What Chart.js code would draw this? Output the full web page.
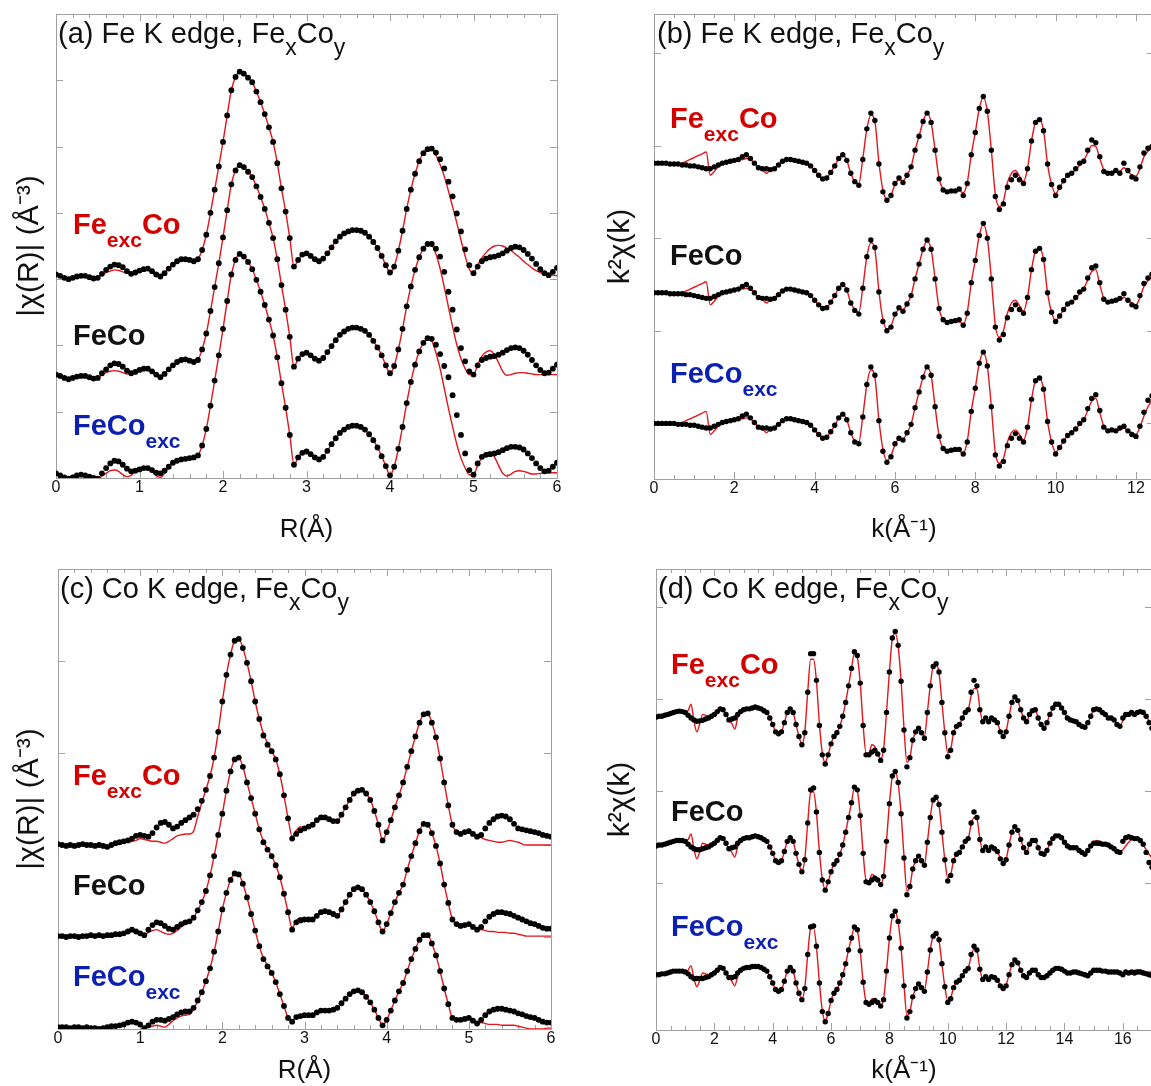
<!DOCTYPE html>
<html>
<head>
<meta charset="utf-8">
<title>Fe / Co K edge EXAFS fits</title>
<script src="https://cdn.jsdelivr.net/npm/chart.js@4.4.1/dist/chart.umd.min.js"></script>
<style>
  html, body { margin: 0; padding: 0; background: #fff; }
  body { position: relative; width: 1151px; height: 1086px; overflow: hidden; font-family: "Liberation Sans", Arial, sans-serif; }
  .panel { position: absolute; }
  .panel canvas { display: block; }
  .ttl { position: absolute; font-size: 29px; line-height: 29px; color: #111; white-space: nowrap; }
  .ttl .s { font-size: 23px; position: relative; top: 12px; }
  .cl { position: absolute; font-size: 29px; line-height: 29px; font-weight: bold; white-space: nowrap; }
  .cl .s { font-size: 21px; position: relative; top: 13px; }
  .red { color: #d40000; }
  .blk { color: #111; }
  .blu { color: #0b1fb0; }
</style>
</head>
<body>
<div class="panel" style="left:0;top:0"><canvas id="chartA" width="575" height="545"></canvas></div>
<div class="panel" style="left:575px;top:0"><canvas id="chartB" width="600" height="545"></canvas></div>
<div class="panel" style="left:0;top:545px"><canvas id="chartC" width="575" height="541"></canvas></div>
<div class="panel" style="left:575px;top:545px"><canvas id="chartD" width="600" height="541"></canvas></div>

<div class="ttl" style="left:58px;top:19px">(a) Fe K edge, Fe<span class="s">x</span>Co<span class="s">y</span></div>
<div class="ttl" style="left:657px;top:19px">(b) Fe K edge, Fe<span class="s">x</span>Co<span class="s">y</span></div>
<div class="ttl" style="left:60px;top:574px">(c) Co K edge, Fe<span class="s">x</span>Co<span class="s">y</span></div>
<div class="ttl" style="left:658px;top:574px">(d) Co K edge, Fe<span class="s">x</span>Co<span class="s">y</span></div>

<div class="cl red" style="left:73px;top:210px">Fe<span class="s">exc</span>Co</div>
<div class="cl blk" style="left:73px;top:321px">FeCo</div>
<div class="cl blu" style="left:73px;top:411px">FeCo<span class="s">exc</span></div>

<div class="cl red" style="left:670px;top:104px">Fe<span class="s">exc</span>Co</div>
<div class="cl blk" style="left:670px;top:241px">FeCo</div>
<div class="cl blu" style="left:670px;top:359px">FeCo<span class="s">exc</span></div>

<div class="cl red" style="left:73px;top:761px">Fe<span class="s">exc</span>Co</div>
<div class="cl blk" style="left:73px;top:871px">FeCo</div>
<div class="cl blu" style="left:73px;top:962px">FeCo<span class="s">exc</span></div>

<div class="cl red" style="left:671px;top:650px">Fe<span class="s">exc</span>Co</div>
<div class="cl blk" style="left:671px;top:797px">FeCo</div>
<div class="cl blu" style="left:671px;top:912px">FeCo<span class="s">exc</span></div>

<script>
// grids: R in steps of 0.05 A, k in steps of 0.1 A^-1
const R_STEP = 0.05;
const K_STEP = 0.1;

// ---------- (a) Fe K edge, |chi(R)| (values above each curve's baseline) ----------
const feROffsets = [3.07, 1.56, 0.07];
const feR_ExcCo = [
  0.00,-0.02,-0.05,-0.07,-0.05,-0.03,-0.02,-0.02,-0.04,-0.06,
  -0.05,0.01,0.07,0.12,0.15,0.14,0.11,0.05,0.01,0.03,
  0.06,0.08,0.09,0.05,0.00,-0.03,0.02,0.09,0.15,0.20,
  0.23,0.23,0.22,0.20,0.23,0.37,0.60,0.93,1.28,1.63,
  2.00,2.40,2.78,2.98,3.06,3.03,2.97,2.90,2.76,2.60,
  2.42,2.22,2.00,1.68,1.30,0.95,0.55,0.12,0.22,0.30,
  0.32,0.28,0.23,0.20,0.24,0.32,0.41,0.50,0.57,0.62,
  0.65,0.67,0.67,0.66,0.63,0.57,0.49,0.40,0.28,0.14,
  0.03,0.12,0.36,0.66,0.99,1.28,1.52,1.71,1.83,1.89,
  1.90,1.84,1.74,1.60,1.40,1.18,0.92,0.65,0.38,0.14,
  0.02,0.12,0.20,0.24,0.26,0.27,0.29,0.32,0.36,0.40,
  0.42,0.41,0.37,0.31,0.24,0.16,0.08,0.02,-0.01,0.04,
  0.10];
const feR_ExcCoFit = [
  0.00,-0.02,-0.05,-0.07,-0.05,-0.03,-0.02,-0.02,-0.04,-0.06,
  -0.05,0.00,0.03,0.05,0.07,0.06,0.04,0.02,0.01,0.03,
  0.06,0.08,0.09,0.05,0.00,-0.03,0.02,0.09,0.15,0.20,
  0.23,0.23,0.22,0.20,0.23,0.37,0.60,0.93,1.28,1.63,
  2.00,2.40,2.78,2.98,3.06,3.03,2.97,2.90,2.76,2.60,
  2.42,2.22,2.00,1.68,1.30,0.95,0.55,0.12,0.22,0.30,
  0.32,0.28,0.23,0.20,0.24,0.32,0.41,0.50,0.57,0.62,
  0.65,0.66,0.66,0.65,0.62,0.57,0.49,0.40,0.28,0.14,
  0.03,0.12,0.36,0.66,0.99,1.28,1.52,1.71,1.83,1.89,
  1.89,1.80,1.66,1.48,1.26,1.02,0.78,0.52,0.28,0.08,
  0.02,0.14,0.25,0.33,0.39,0.43,0.44,0.43,0.40,0.36,
  0.31,0.26,0.20,0.15,0.10,0.06,0.03,0.01,0.00,-0.01,
  -0.02];
const feR_FeCo = [
  0.00,-0.02,-0.05,-0.07,-0.05,-0.03,-0.02,-0.02,-0.04,-0.06,
  -0.05,0.02,0.08,0.14,0.17,0.16,0.12,0.06,0.02,0.04,
  0.07,0.09,0.09,0.05,0.00,-0.04,0.01,0.08,0.14,0.19,
  0.22,0.23,0.21,0.19,0.22,0.38,0.62,0.96,1.32,1.68,
  2.07,2.48,2.87,3.08,3.16,3.13,3.06,2.98,2.84,2.68,
  2.50,2.29,2.06,1.74,1.35,0.98,0.57,0.12,0.24,0.31,
  0.33,0.29,0.24,0.21,0.25,0.34,0.43,0.52,0.60,0.65,
  0.69,0.71,0.71,0.69,0.66,0.60,0.51,0.41,0.29,0.14,
  0.02,0.13,0.38,0.69,1.03,1.33,1.58,1.77,1.90,1.97,
  1.97,1.90,1.78,1.55,1.25,0.98,0.68,0.40,0.20,0.05,
  0.00,0.14,0.22,0.25,0.27,0.28,0.30,0.33,0.37,0.40,
  0.41,0.40,0.36,0.30,0.22,0.14,0.07,0.02,0.03,0.09,
  0.15];
const feR_FeCoFit = [
  0.00,-0.02,-0.05,-0.07,-0.05,-0.03,-0.02,-0.02,-0.04,-0.06,
  -0.05,0.00,0.03,0.05,0.06,0.05,0.03,0.01,0.02,0.04,
  0.07,0.09,0.09,0.05,0.00,-0.04,0.01,0.08,0.14,0.19,
  0.22,0.23,0.21,0.19,0.22,0.38,0.62,0.96,1.32,1.68,
  2.07,2.48,2.87,3.08,3.16,3.13,3.06,2.98,2.84,2.68,
  2.50,2.29,2.06,1.74,1.35,0.98,0.57,0.12,0.24,0.31,
  0.33,0.29,0.24,0.21,0.25,0.34,0.43,0.52,0.60,0.65,
  0.69,0.70,0.70,0.68,0.65,0.60,0.51,0.41,0.29,0.14,
  0.02,0.13,0.38,0.69,1.03,1.33,1.58,1.77,1.90,1.97,
  1.95,1.82,1.60,1.32,1.02,0.72,0.45,0.24,0.09,0.00,
  0.00,0.15,0.28,0.34,0.36,0.30,0.18,0.05,-0.01,0.00,
  0.02,0.03,0.03,0.02,0.01,0.00,0.00,0.00,0.00,0.00,
  0.00];
const feR_CoExc = [
  0.00,-0.03,-0.06,-0.08,-0.06,-0.03,-0.02,-0.03,-0.05,-0.07,
  -0.08,0.00,0.08,0.15,0.19,0.18,0.13,0.07,0.03,0.04,
  0.06,0.08,0.08,0.05,0.01,0.00,0.04,0.10,0.16,0.19,
  0.21,0.22,0.23,0.24,0.27,0.42,0.67,1.02,1.40,1.78,
  2.18,2.60,3.00,3.22,3.31,3.27,3.19,3.08,2.92,2.74,
  2.54,2.32,2.08,1.75,1.36,0.99,0.58,0.13,0.24,0.31,
  0.33,0.29,0.24,0.21,0.25,0.34,0.44,0.53,0.61,0.66,
  0.70,0.72,0.72,0.70,0.66,0.59,0.50,0.39,0.26,0.11,
  -0.03,0.10,0.37,0.70,1.06,1.38,1.64,1.84,1.97,2.04,
  2.03,1.94,1.80,1.62,1.45,1.18,0.88,0.58,0.30,0.05,
  -0.02,0.15,0.25,0.28,0.29,0.30,0.32,0.35,0.38,0.40,
  0.40,0.39,0.36,0.30,0.23,0.15,0.08,0.03,0.04,0.10,
  0.16];
const feR_CoExcFit = [
  0.00,-0.03,-0.06,-0.08,-0.06,-0.03,-0.02,-0.03,-0.05,-0.07,
  -0.08,-0.04,0.00,0.04,0.05,0.03,-0.02,-0.05,-0.03,0.03,
  0.08,0.09,0.07,0.03,-0.03,-0.06,0.00,0.10,0.16,0.19,
  0.21,0.22,0.23,0.24,0.27,0.42,0.67,1.02,1.40,1.78,
  2.18,2.60,3.00,3.22,3.31,3.27,3.19,3.08,2.92,2.74,
  2.54,2.32,2.08,1.75,1.36,0.99,0.58,0.13,0.24,0.31,
  0.33,0.29,0.24,0.21,0.25,0.34,0.44,0.53,0.61,0.66,
  0.70,0.71,0.71,0.69,0.65,0.59,0.50,0.39,0.26,0.11,
  -0.03,0.10,0.37,0.70,1.06,1.38,1.64,1.84,1.97,2.04,
  2.00,1.82,1.58,1.28,0.98,0.70,0.44,0.23,0.08,-0.02,
  -0.02,0.12,0.24,0.31,0.32,0.25,0.12,0.00,-0.04,-0.01,
  0.03,0.04,0.03,0.01,-0.01,-0.01,0.00,0.01,0.01,0.01,
  0.01];

// ---------- (b) Fe K edge, k^2 chi(k) ----------
const feKOffsets = [2.80, 1.40, 0.00];
const feK_ExcCo = [
  0.01,0.01,0.01,0.01,0.00,0.00,0.00,-0.01,-0.01,-0.02,
  -0.02,-0.03,-0.04,-0.05,-0.05,-0.03,-0.01,0.01,0.02,0.03,
  0.04,0.05,0.08,0.10,0.06,0.01,-0.04,-0.05,-0.05,-0.06,
  -0.05,-0.01,0.03,0.05,0.05,0.04,0.03,0.02,0.01,-0.02,
  -0.07,-0.12,-0.16,-0.15,-0.09,-0.02,0.06,0.10,0.04,-0.10,
  -0.19,-0.23,0.05,0.38,0.55,0.47,0.00,-0.30,-0.39,-0.34,
  -0.21,-0.15,-0.20,-0.12,-0.03,0.15,0.30,0.46,0.55,0.45,
  0.15,-0.16,-0.28,-0.30,-0.29,-0.29,-0.27,-0.34,-0.21,0.10,
  0.34,0.60,0.73,0.57,0.15,-0.35,-0.49,-0.43,-0.25,-0.17,
  -0.12,-0.17,-0.21,-0.05,0.25,0.45,0.48,0.36,0.00,-0.22,
  -0.34,-0.25,-0.18,-0.12,-0.10,-0.05,0.01,0.03,0.15,0.26,
  0.23,0.08,-0.08,-0.10,-0.10,-0.07,-0.10,0.01,-0.07,-0.14,
  -0.16,-0.03,0.12,0.17,0.19];
const feK_ExcCoFit = [
  0.01,0.01,0.01,0.01,0.00,0.00,0.00,0.01,0.03,0.05,
  0.07,0.09,0.11,0.13,-0.12,-0.08,-0.03,0.00,0.02,0.03,
  0.04,0.05,0.05,0.06,0.05,0.01,-0.04,-0.06,-0.10,-0.06,
  -0.04,-0.01,0.03,0.05,0.05,0.04,0.03,0.02,0.01,-0.02,
  -0.07,-0.12,-0.16,-0.15,-0.09,-0.02,0.06,0.10,0.04,-0.10,
  -0.19,-0.21,0.06,0.38,0.53,0.46,0.02,-0.28,-0.38,-0.34,
  -0.22,-0.17,-0.18,-0.12,-0.03,0.15,0.30,0.46,0.55,0.45,
  0.15,-0.16,-0.27,-0.29,-0.29,-0.29,-0.29,-0.31,-0.20,0.10,
  0.34,0.60,0.72,0.57,0.15,-0.33,-0.46,-0.40,-0.20,-0.10,
  -0.07,-0.13,-0.19,-0.05,0.25,0.45,0.48,0.36,0.00,-0.22,
  -0.32,-0.25,-0.18,-0.12,-0.10,-0.06,-0.01,0.04,0.12,0.20,
  0.19,0.06,-0.06,-0.09,-0.08,-0.09,-0.08,-0.04,-0.08,-0.12,
  -0.13,-0.05,0.08,0.14,0.17];
const feK_FeCo = [
  0.01,0.01,0.01,0.01,0.00,0.00,0.00,0.00,-0.01,-0.01,
  -0.02,-0.03,-0.04,-0.05,-0.05,-0.03,-0.01,0.01,0.02,0.03,
  0.04,0.05,0.08,0.10,0.06,0.01,-0.04,-0.05,-0.05,-0.06,
  -0.05,-0.01,0.03,0.05,0.05,0.04,0.03,0.02,0.01,-0.02,
  -0.07,-0.12,-0.16,-0.15,-0.09,-0.02,0.06,0.10,0.04,-0.10,
  -0.18,-0.22,0.06,0.40,0.58,0.50,0.02,-0.30,-0.40,-0.36,
  -0.22,-0.15,-0.19,-0.11,-0.02,0.16,0.32,0.48,0.58,0.48,
  0.16,-0.16,-0.28,-0.31,-0.30,-0.29,-0.28,-0.34,-0.21,0.12,
  0.36,0.63,0.76,0.60,0.16,-0.36,-0.50,-0.44,-0.26,-0.17,
  -0.12,-0.17,-0.21,-0.04,0.26,0.46,0.49,0.37,0.01,-0.20,
  -0.30,-0.24,-0.17,-0.11,-0.09,-0.04,0.02,0.05,0.17,0.28,
  0.30,0.12,-0.06,-0.09,-0.08,-0.07,-0.05,0.00,-0.07,-0.12,
  -0.14,-0.02,0.11,0.17,0.21];
const feK_FeCoFit = [
  0.01,0.01,0.01,0.01,0.00,0.00,0.00,0.01,0.03,0.05,
  0.07,0.09,0.11,0.13,-0.12,-0.08,-0.03,0.00,0.02,0.03,
  0.04,0.05,0.05,0.06,0.05,0.01,-0.04,-0.06,-0.10,-0.06,
  -0.04,-0.01,0.03,0.05,0.05,0.04,0.03,0.02,0.01,-0.02,
  -0.07,-0.12,-0.16,-0.15,-0.09,-0.02,0.06,0.10,0.04,-0.10,
  -0.17,-0.20,0.07,0.40,0.55,0.48,0.03,-0.28,-0.38,-0.35,
  -0.23,-0.17,-0.17,-0.11,-0.02,0.16,0.32,0.48,0.57,0.48,
  0.16,-0.16,-0.28,-0.30,-0.30,-0.31,-0.30,-0.33,-0.20,0.12,
  0.36,0.63,0.75,0.60,0.16,-0.34,-0.47,-0.40,-0.21,-0.10,
  -0.07,-0.13,-0.19,-0.04,0.26,0.46,0.49,0.37,0.01,-0.20,
  -0.29,-0.24,-0.17,-0.11,-0.09,-0.05,0.00,0.05,0.15,0.24,
  0.26,0.10,-0.05,-0.08,-0.08,-0.08,-0.07,-0.04,-0.07,-0.10,
  -0.12,-0.04,0.08,0.14,0.18];
const feK_CoExc = [
  0.00,0.00,0.00,0.00,0.00,0.00,-0.01,-0.01,-0.01,-0.02,
  -0.02,-0.03,-0.04,-0.05,-0.05,-0.03,-0.01,0.01,0.02,0.03,
  0.04,0.05,0.08,0.10,0.06,0.01,-0.04,-0.05,-0.05,-0.06,
  -0.05,-0.01,0.03,0.05,0.05,0.04,0.03,0.02,0.01,-0.02,
  -0.07,-0.12,-0.16,-0.15,-0.09,-0.02,0.06,0.10,0.04,-0.10,
  -0.20,-0.22,0.07,0.42,0.61,0.52,0.03,-0.30,-0.42,-0.36,
  -0.22,-0.16,-0.18,-0.10,-0.01,0.17,0.34,0.50,0.61,0.52,
  0.18,-0.14,-0.27,-0.30,-0.29,-0.28,-0.28,-0.33,-0.20,0.13,
  0.38,0.65,0.77,0.62,0.18,-0.34,-0.46,-0.41,-0.24,-0.16,
  -0.11,-0.16,-0.20,-0.04,0.26,0.46,0.49,0.37,0.02,-0.20,
  -0.33,-0.26,-0.19,-0.13,-0.10,-0.06,0.00,0.04,0.16,0.27,
  0.31,0.14,-0.04,-0.08,-0.07,-0.08,-0.05,-0.03,-0.08,-0.12,
  -0.14,-0.03,0.12,0.25,0.30];
const feK_CoExcFit = [
  0.00,0.00,0.00,0.00,0.00,0.00,0.00,0.01,0.03,0.05,
  0.07,0.09,0.11,0.13,-0.12,-0.08,-0.03,0.00,0.02,0.03,
  0.04,0.05,0.05,0.06,0.05,0.01,-0.04,-0.06,-0.10,-0.06,
  -0.04,-0.01,0.03,0.05,0.05,0.04,0.03,0.02,0.01,-0.02,
  -0.07,-0.12,-0.16,-0.15,-0.09,-0.02,0.06,0.10,0.04,-0.10,
  -0.19,-0.20,0.08,0.42,0.58,0.50,0.04,-0.28,-0.40,-0.35,
  -0.23,-0.17,-0.17,-0.10,-0.01,0.17,0.34,0.50,0.60,0.52,
  0.18,-0.14,-0.27,-0.29,-0.29,-0.30,-0.30,-0.32,-0.19,0.13,
  0.38,0.65,0.76,0.62,0.18,-0.32,-0.43,-0.38,-0.20,-0.10,
  -0.07,-0.12,-0.18,-0.04,0.26,0.46,0.49,0.37,0.02,-0.20,
  -0.31,-0.26,-0.19,-0.13,-0.10,-0.06,-0.01,0.04,0.14,0.24,
  0.27,0.12,-0.03,-0.07,-0.07,-0.08,-0.07,-0.05,-0.08,-0.10,
  -0.12,-0.04,0.08,0.18,0.25];

// ---------- (c) Co K edge, |chi(R)| ----------
const coROffsets = [2.01, 1.01, 0.02];
const coR_ExcCo = [
  0.00,-0.01,-0.02,-0.01,-0.02,-0.01,0.00,-0.01,-0.01,-0.02,
  -0.01,-0.02,-0.03,-0.01,0.01,0.02,0.03,0.04,0.06,0.09,
  0.10,0.09,0.08,0.12,0.18,0.23,0.24,0.21,0.17,0.19,
  0.23,0.26,0.29,0.32,0.38,0.47,0.59,0.74,0.94,1.22,
  1.55,1.84,2.06,2.21,2.23,2.13,1.97,1.77,1.55,1.36,
  1.18,1.08,1.01,0.92,0.76,0.53,0.28,0.06,0.11,0.15,
  0.17,0.19,0.21,0.26,0.29,0.29,0.27,0.25,0.25,0.32,
  0.40,0.48,0.55,0.58,0.59,0.55,0.48,0.36,0.21,0.04,
  0.13,0.26,0.40,0.53,0.67,0.84,1.01,1.17,1.32,1.41,
  1.42,1.32,1.16,0.93,0.67,0.42,0.21,0.13,0.11,0.13,
  0.14,0.11,0.08,0.10,0.17,0.23,0.27,0.30,0.31,0.30,
  0.27,0.22,0.17,0.16,0.15,0.14,0.13,0.12,0.10,0.09,
  0.08];
const coR_ExcCoFit = [
  0.00,-0.01,-0.02,-0.01,-0.02,-0.01,0.00,-0.01,-0.01,-0.02,
  -0.01,-0.02,-0.03,-0.01,0.01,0.02,0.02,0.02,0.03,0.04,
  0.06,0.05,0.04,0.03,0.03,0.02,0.01,0.03,0.06,0.09,
  0.10,0.11,0.11,0.14,0.30,0.45,0.59,0.74,0.94,1.22,
  1.55,1.84,2.06,2.21,2.23,2.13,1.97,1.77,1.55,1.36,
  1.20,1.10,1.01,0.92,0.76,0.53,0.28,0.08,0.15,0.19,
  0.18,0.19,0.21,0.26,0.29,0.29,0.27,0.25,0.25,0.32,
  0.40,0.48,0.55,0.58,0.58,0.55,0.48,0.36,0.21,0.04,
  0.13,0.26,0.40,0.53,0.67,0.84,1.01,1.17,1.32,1.41,
  1.42,1.32,1.16,0.93,0.67,0.42,0.21,0.13,0.11,0.13,
  0.14,0.11,0.08,0.07,0.05,0.04,0.03,0.02,0.02,0.03,
  0.04,0.03,0.02,0.00,-0.01,-0.01,-0.01,-0.01,-0.01,-0.01,
  -0.01];
const coR_FeCo = [
  0.00,0.00,-0.01,0.00,0.00,-0.01,0.00,0.00,0.01,0.00,
  0.01,0.00,0.01,0.01,0.02,0.02,0.03,0.05,0.07,0.05,
  0.03,0.01,0.07,0.12,0.15,0.14,0.11,0.08,0.07,0.10,
  0.13,0.15,0.16,0.20,0.28,0.37,0.49,0.66,0.87,1.10,
  1.33,1.58,1.79,1.92,1.94,1.84,1.67,1.50,1.33,1.16,
  1.02,0.94,0.87,0.77,0.64,0.46,0.26,0.07,0.15,0.17,
  0.18,0.18,0.18,0.22,0.26,0.27,0.26,0.24,0.22,0.29,
  0.37,0.45,0.51,0.53,0.51,0.45,0.37,0.27,0.15,0.05,
  0.13,0.25,0.37,0.47,0.56,0.72,0.87,1.01,1.14,1.22,
  1.21,1.12,0.98,0.79,0.56,0.36,0.18,0.13,0.11,0.12,
  0.13,0.10,0.07,0.10,0.16,0.21,0.24,0.26,0.26,0.25,
  0.24,0.22,0.20,0.18,0.16,0.14,0.13,0.11,0.09,0.08,
  0.08];
const coR_FeCoFit = [
  0.00,0.00,-0.01,0.00,0.00,-0.01,0.00,0.00,0.01,0.00,
  0.01,0.00,0.01,0.01,0.02,0.02,0.03,0.05,0.07,0.05,
  0.03,0.01,0.04,0.06,0.07,0.05,0.03,0.02,0.03,0.06,
  0.10,0.13,0.15,0.20,0.28,0.37,0.49,0.66,0.87,1.10,
  1.33,1.58,1.79,1.92,1.94,1.84,1.67,1.50,1.33,1.16,
  1.03,0.95,0.87,0.77,0.64,0.46,0.26,0.09,0.17,0.20,
  0.19,0.18,0.18,0.22,0.26,0.27,0.26,0.24,0.22,0.29,
  0.37,0.45,0.51,0.53,0.51,0.45,0.37,0.27,0.15,0.05,
  0.13,0.25,0.37,0.47,0.56,0.72,0.87,1.01,1.14,1.22,
  1.21,1.12,0.98,0.79,0.56,0.36,0.18,0.13,0.11,0.12,
  0.13,0.10,0.07,0.07,0.06,0.05,0.05,0.04,0.04,0.04,
  0.03,0.03,0.02,0.01,0.00,0.00,0.00,0.00,0.00,0.00,
  0.00];
const coR_CoExc = [
  0.00,0.00,0.00,-0.01,0.00,0.00,-0.01,0.00,-0.01,-0.01,
  -0.02,-0.01,0.00,0.01,0.01,0.02,0.03,0.05,0.06,0.05,
  0.03,-0.01,0.02,0.06,0.08,0.08,0.07,0.09,0.11,0.14,
  0.16,0.17,0.17,0.21,0.29,0.38,0.50,0.64,0.82,1.04,
  1.28,1.46,1.60,1.67,1.66,1.56,1.41,1.23,1.05,0.88,
  0.74,0.66,0.59,0.49,0.36,0.23,0.10,0.06,0.11,0.12,
  0.13,0.13,0.13,0.16,0.18,0.18,0.18,0.19,0.21,0.26,
  0.31,0.36,0.39,0.40,0.38,0.33,0.27,0.19,0.10,0.02,
  0.08,0.18,0.29,0.39,0.48,0.61,0.74,0.85,0.95,1.00,
  1.00,0.91,0.78,0.61,0.42,0.25,0.10,0.08,0.08,0.09,
  0.10,0.07,0.04,0.08,0.13,0.17,0.19,0.20,0.20,0.19,
  0.18,0.17,0.15,0.14,0.12,0.11,0.10,0.08,0.06,0.05,
  0.05];
const coR_CoExcFit = [
  0.00,0.00,0.00,-0.01,0.00,0.00,-0.01,0.00,-0.01,-0.01,
  -0.02,-0.01,0.00,0.01,0.01,0.02,0.03,0.05,0.06,0.05,
  0.03,-0.01,0.00,0.01,0.02,0.01,0.00,0.03,0.07,0.10,
  0.12,0.13,0.14,0.19,0.29,0.38,0.50,0.64,0.82,1.04,
  1.28,1.46,1.60,1.67,1.66,1.56,1.41,1.23,1.05,0.88,
  0.75,0.67,0.59,0.49,0.36,0.23,0.10,0.07,0.12,0.13,
  0.13,0.13,0.13,0.16,0.18,0.18,0.18,0.19,0.21,0.26,
  0.31,0.36,0.39,0.40,0.38,0.33,0.27,0.19,0.10,0.02,
  0.08,0.18,0.29,0.39,0.48,0.61,0.74,0.85,0.95,1.00,
  1.00,0.91,0.78,0.61,0.42,0.25,0.10,0.08,0.08,0.09,
  0.10,0.07,0.04,0.05,0.04,0.03,0.03,0.03,0.02,0.02,
  0.02,0.02,0.01,0.00,-0.01,-0.02,-0.02,-0.02,-0.02,-0.01,
  -0.01];

// ---------- (d) Co K edge, k^2 chi(k) ----------
const coKOffsets = [2.81, 1.41, 0.00];
const coK_ExcCo = [
  -0.01,0.00,0.00,0.01,0.02,0.03,0.04,0.05,0.055,0.05,
  0.04,0.01,-0.02,-0.04,-0.055,-0.05,-0.045,-0.03,-0.02,0.00,
  0.02,0.05,0.08,0.07,0.02,-0.04,-0.03,-0.02,0.02,0.05,
  0.07,0.08,0.08,0.09,0.10,0.09,0.08,0.06,0.04,-0.02,
  -0.09,-0.17,-0.19,-0.17,-0.07,0.04,0.08,0.04,-0.09,-0.22,
  -0.31,-0.18,0.26,0.68,0.68,0.39,-0.10,-0.42,-0.52,-0.42,
  -0.30,-0.22,-0.18,-0.11,0.00,0.15,0.33,0.52,0.70,0.66,
  0.36,-0.10,-0.42,-0.42,-0.39,-0.37,-0.41,-0.48,-0.37,0.04,
  0.48,0.85,0.92,0.77,0.38,-0.15,-0.55,-0.45,-0.26,-0.17,
  -0.13,-0.18,-0.24,0.04,0.33,0.54,0.57,0.48,0.15,-0.18,
  -0.44,-0.37,-0.18,-0.11,-0.09,-0.02,0.04,0.07,0.26,0.39,
  0.33,0.07,-0.06,-0.02,-0.06,-0.02,-0.04,-0.07,-0.17,-0.22,
  -0.17,0.00,0.15,0.21,0.17,0.07,-0.02,-0.06,0.02,0.06,
  0.07,-0.02,-0.09,-0.13,-0.07,0.02,0.09,0.13,0.13,0.09,
  0.04,-0.02,-0.04,-0.05,-0.06,-0.09,-0.11,-0.12,-0.07,0.00,
  0.07,0.08,0.07,0.04,0.02,-0.02,-0.02,-0.04,-0.09,-0.11,
  -0.02,0.02,0.02,0.04,0.02,0.04,0.05,0.04,0.00,-0.07,
  -0.13];
const coK_ExcCoFit = [
  -0.01,0.00,0.00,0.01,0.02,0.03,0.04,0.05,0.055,0.05,
  0.04,0.06,0.13,-0.05,-0.17,-0.08,0.02,0.01,0.00,0.01,
  0.02,0.05,0.08,0.07,0.02,-0.04,-0.08,-0.14,-0.02,0.05,
  0.07,0.08,0.08,0.09,0.10,0.09,0.08,0.06,0.04,-0.02,
  -0.09,-0.17,-0.19,-0.17,-0.07,0.04,0.08,0.04,-0.09,-0.22,
  -0.30,-0.17,0.26,0.62,0.62,0.38,-0.08,-0.40,-0.50,-0.42,
  -0.30,-0.22,-0.18,-0.11,0.00,0.15,0.33,0.52,0.68,0.64,
  0.36,-0.10,-0.40,-0.40,-0.31,-0.33,-0.41,-0.46,-0.36,0.04,
  0.48,0.84,0.90,0.76,0.38,-0.13,-0.50,-0.45,-0.26,-0.17,
  -0.13,-0.18,-0.22,0.04,0.33,0.54,0.56,0.47,0.15,-0.18,
  -0.40,-0.36,-0.18,-0.11,-0.09,-0.02,0.04,0.07,0.22,0.30,
  0.30,0.09,-0.06,-0.02,-0.06,-0.02,-0.04,-0.07,-0.16,-0.21,
  -0.16,0.00,0.15,0.20,0.17,0.07,-0.02,-0.06,0.02,0.06,
  0.07,-0.02,-0.09,-0.13,-0.07,0.02,0.09,0.13,0.13,0.09,
  0.04,-0.02,-0.04,-0.05,-0.06,-0.09,-0.11,-0.12,-0.07,0.00,
  0.07,0.08,0.07,0.04,0.02,-0.02,-0.02,-0.04,-0.09,-0.11,
  -0.05,-0.01,0.02,0.04,0.03,0.04,0.04,0.03,0.00,-0.05,
  -0.11];
const coK_FeCo = [
  -0.01,0.00,0.00,0.01,0.02,0.03,0.04,0.05,0.05,0.05,
  0.04,0.01,-0.02,-0.04,-0.05,-0.05,-0.04,-0.03,-0.02,0.00,
  0.02,0.05,0.08,0.07,0.02,-0.04,-0.03,-0.02,0.02,0.05,
  0.07,0.08,0.08,0.09,0.10,0.09,0.08,0.06,0.04,-0.02,
  -0.09,-0.17,-0.19,-0.17,-0.07,0.04,0.08,0.04,-0.09,-0.21,
  -0.29,-0.16,0.24,0.60,0.62,0.36,-0.08,-0.38,-0.49,-0.40,
  -0.29,-0.21,-0.17,-0.10,0.00,0.14,0.30,0.46,0.63,0.60,
  0.32,-0.09,-0.40,-0.41,-0.38,-0.36,-0.38,-0.43,-0.34,0.04,
  0.45,0.75,0.80,0.68,0.34,-0.14,-0.54,-0.45,-0.26,-0.17,
  -0.12,-0.17,-0.22,0.03,0.30,0.49,0.52,0.44,0.14,-0.16,
  -0.39,-0.33,-0.17,-0.10,-0.08,-0.02,0.04,0.07,0.24,0.36,
  0.30,0.06,-0.06,-0.02,-0.06,-0.02,-0.04,-0.07,-0.15,-0.20,
  -0.16,0.00,0.14,0.20,0.16,0.06,-0.03,-0.08,0.01,0.05,
  0.05,-0.03,-0.09,-0.10,-0.06,0.02,0.07,0.10,0.10,0.08,
  0.03,-0.01,-0.03,-0.03,-0.03,-0.06,-0.08,-0.10,-0.06,-0.01,
  0.02,0.02,0.02,0.01,0.01,0.00,-0.02,-0.04,-0.07,-0.08,
  0.04,0.08,0.09,0.08,0.07,0.07,0.05,0.01,-0.08,-0.19,
  -0.24];
const coK_FeCoFit = [
  -0.01,0.00,0.00,0.01,0.02,0.03,0.04,0.05,0.05,0.05,
  0.04,0.06,0.12,-0.04,-0.15,-0.07,0.02,0.01,0.00,0.01,
  0.02,0.05,0.08,0.07,0.02,-0.04,-0.08,-0.13,-0.02,0.05,
  0.07,0.08,0.08,0.09,0.10,0.09,0.08,0.06,0.04,-0.02,
  -0.09,-0.17,-0.19,-0.17,-0.07,0.04,0.08,0.04,-0.09,-0.21,
  -0.28,-0.15,0.24,0.57,0.58,0.35,-0.07,-0.37,-0.48,-0.40,
  -0.29,-0.21,-0.17,-0.10,0.00,0.14,0.30,0.46,0.62,0.59,
  0.32,-0.09,-0.38,-0.39,-0.32,-0.34,-0.38,-0.42,-0.33,0.04,
  0.45,0.74,0.79,0.67,0.34,-0.12,-0.50,-0.45,-0.26,-0.17,
  -0.12,-0.17,-0.21,0.03,0.30,0.49,0.51,0.43,0.14,-0.16,
  -0.36,-0.32,-0.17,-0.10,-0.08,-0.02,0.04,0.07,0.22,0.30,
  0.28,0.07,-0.06,-0.02,-0.06,-0.02,-0.04,-0.07,-0.14,-0.19,
  -0.15,0.00,0.14,0.19,0.16,0.06,-0.03,-0.08,0.01,0.05,
  0.05,-0.03,-0.09,-0.10,-0.06,0.02,0.07,0.10,0.10,0.08,
  0.03,-0.01,-0.03,-0.03,-0.03,-0.06,-0.08,-0.10,-0.06,-0.01,
  0.03,0.05,0.04,0.02,0.01,0.00,-0.02,-0.04,-0.06,-0.07,
  -0.05,-0.01,0.03,0.06,0.07,0.06,0.04,0.00,-0.05,-0.10,
  -0.14];
const coK_CoExc = [
  0.00,0.00,0.01,0.01,0.02,0.03,0.04,0.04,0.04,0.04,
  0.03,0.01,-0.02,-0.04,-0.04,-0.04,-0.04,-0.03,-0.02,0.00,
  0.02,0.05,0.08,0.07,0.02,-0.03,-0.03,-0.02,0.02,0.05,
  0.07,0.08,0.08,0.09,0.09,0.09,0.08,0.06,0.04,-0.02,
  -0.09,-0.16,-0.18,-0.16,-0.07,0.04,0.08,0.04,-0.09,-0.20,
  -0.27,-0.15,0.22,0.52,0.53,0.31,-0.09,-0.40,-0.51,-0.42,
  -0.28,-0.20,-0.16,-0.09,0.00,0.12,0.27,0.40,0.52,0.49,
  0.26,-0.08,-0.30,-0.32,-0.30,-0.28,-0.30,-0.34,-0.27,0.04,
  0.40,0.64,0.69,0.58,0.29,-0.12,-0.47,-0.40,-0.24,-0.15,
  -0.10,-0.14,-0.18,0.03,0.27,0.42,0.45,0.38,0.12,-0.13,
  -0.30,-0.26,-0.14,-0.08,-0.06,-0.01,0.04,0.07,0.22,0.31,
  0.27,0.06,-0.05,-0.02,-0.05,-0.02,-0.03,-0.06,-0.12,-0.15,
  -0.12,0.00,0.11,0.16,0.13,0.05,-0.01,-0.03,0.02,0.05,
  0.05,0.00,-0.03,-0.03,-0.01,0.02,0.05,0.07,0.07,0.06,
  0.04,0.02,0.02,0.03,0.03,0.02,0.01,0.00,-0.01,0.02,
  0.05,0.05,0.05,0.04,0.04,0.03,0.03,0.03,0.03,0.02,
  0.00,0.03,0.02,0.03,0.02,0.03,0.03,0.02,0.01,0.00,
  -0.01];
const coK_CoExcFit = [
  0.00,0.00,0.01,0.01,0.02,0.03,0.04,0.04,0.04,0.04,
  0.03,0.05,0.10,-0.04,-0.13,-0.06,0.02,0.01,0.00,0.01,
  0.02,0.05,0.08,0.07,0.02,-0.03,-0.07,-0.12,-0.02,0.05,
  0.07,0.08,0.08,0.09,0.09,0.09,0.08,0.06,0.04,-0.02,
  -0.09,-0.16,-0.18,-0.16,-0.07,0.04,0.08,0.04,-0.09,-0.20,
  -0.26,-0.14,0.22,0.50,0.51,0.30,-0.08,-0.39,-0.50,-0.42,
  -0.28,-0.20,-0.16,-0.09,0.00,0.12,0.27,0.40,0.51,0.48,
  0.26,-0.08,-0.29,-0.31,-0.26,-0.27,-0.30,-0.33,-0.26,0.04,
  0.40,0.63,0.68,0.57,0.29,-0.11,-0.44,-0.40,-0.24,-0.15,
  -0.10,-0.14,-0.17,0.03,0.27,0.42,0.44,0.37,0.12,-0.13,
  -0.28,-0.25,-0.14,-0.08,-0.06,-0.01,0.04,0.07,0.20,0.28,
  0.26,0.07,-0.05,-0.02,-0.05,-0.02,-0.03,-0.06,-0.11,-0.14,
  -0.11,0.00,0.11,0.15,0.13,0.05,-0.01,-0.03,0.02,0.05,
  0.05,0.00,-0.03,-0.03,-0.01,0.02,0.05,0.07,0.07,0.06,
  0.04,0.02,0.02,0.03,0.03,0.02,0.01,0.00,-0.01,0.02,
  0.05,0.05,0.05,0.04,0.04,0.03,0.03,0.03,0.03,0.02,
  0.01,0.02,0.03,0.04,0.05,0.05,0.05,0.04,0.03,0.03,
  0.03];

// ---------- drawing ----------
const FONT = '"Liberation Sans", Arial, sans-serif';
const FRAME_COLOR = '#a0a0a0';
const FIT_COLOR = '#e3161c';

// box round the plot area with inward ticks on all four sides
const frameTicks = {
  id: 'frameTicks',
  beforeDatasetsDraw(chart, args, opts) {
    const { ctx, chartArea: a, scales: { x, y } } = chart;
    ctx.save();
    ctx.strokeStyle = FRAME_COLOR;
    ctx.lineWidth = 1;
    ctx.strokeRect(Math.round(a.left) + 0.5, Math.round(a.top) + 0.5,
      Math.round(a.right - a.left), Math.round(a.bottom - a.top));
    ctx.beginPath();
    const n = Math.floor((x.max - x.min) / opts.xMinor + 1e-6);
    for (let i = 0; i <= n; i++) {
      const v = x.min + i * opts.xMinor;
      const px = Math.round(x.getPixelForValue(v)) + 0.5;
      const r = v / opts.xMajor;
      const len = Math.abs(r - Math.round(r)) < 1e-6 ? 7 : 4;
      ctx.moveTo(px, a.bottom); ctx.lineTo(px, a.bottom - len);
      ctx.moveTo(px, a.top); ctx.lineTo(px, a.top + len);
    }
    y.ticks.forEach(t => {
      const py = Math.round(y.getPixelForValue(t.value)) + 0.5;
      ctx.moveTo(a.left, py); ctx.lineTo(a.left + 7, py);
      ctx.moveTo(a.right, py); ctx.lineTo(a.right - 7, py);
    });
    ctx.stroke();
    ctx.restore();
  }
};

function toXY(vals, step, off) {
  return vals.map((v, i) => ({ x: +(i * step).toFixed(2), y: v + off }));
}

function buildPanel(id, p) {
  const datasets = [];
  p.series.forEach((s, i) => {
    datasets.push({
      data: toXY(s[0], p.step, p.offsets[i]),
      showLine: false,
      pointRadius: p.dot,
      pointHoverRadius: 0,
      pointBackgroundColor: '#000',
      pointBorderWidth: 0,
      order: 0
    });
    datasets.push({
      data: toXY(s[1], p.step, p.offsets[i]),
      borderColor: FIT_COLOR,
      borderWidth: 1.4,
      pointRadius: 0,
      cubicInterpolationMode: 'monotone',
      fill: false,
      order: 1
    });
  });

  new Chart(document.getElementById(id), {
    type: 'line',
    data: { datasets },
    options: {
      responsive: false,
      animation: false,
      events: [],
      layout: { padding: p.pad },
      plugins: {
        legend: { display: false },
        tooltip: { enabled: false },
        frameTicks: { xMinor: p.xMinor, xMajor: p.xMajor }
      },
      scales: {
        x: {
          type: 'linear',
          min: 0,
          max: p.xMax,
          grid: { display: false, drawTicks: false },
          border: { display: false },
          ticks: {
            stepSize: p.xMajor, includeBounds: false, padding: 0, maxRotation: 0,
            color: '#111', font: { family: FONT, size: 16 }
          },
          title: {
            display: true, text: p.xTitle, color: '#111', padding: 0,
            font: { family: FONT, size: 26 }
          },
          afterFit: s => { s.height = p.xH; }
        },
        y: {
          min: p.yMin,
          max: p.yMax,
          grid: { display: false, drawTicks: false },
          border: { display: false },
          ticks: { display: false, stepSize: 1, includeBounds: false },
          title: {
            display: true, text: p.yTitle, color: '#111',
            padding: { top: p.yTitlePad, bottom: 0 },
            font: { family: FONT, size: 30 }
          },
          afterFit: s => { s.width = p.yW; }
        }
      }
    },
    plugins: [frameTicks]
  });
}

buildPanel('chartA', {
  series: [[feR_ExcCo, feR_ExcCoFit], [feR_FeCo, feR_FeCoFit], [feR_CoExc, feR_CoExcFit]],
  offsets: feROffsets, step: R_STEP, dot: 2.9,
  xMax: 6, xMajor: 1, xMinor: 0.2, yMin: 0, yMax: 7,
  xTitle: 'R(Å)', yTitle: '|χ(R)| (Å⁻³)',
  pad: { top: 14, right: 18, bottom: 0, left: 0 }, yW: 56, xH: 67, yTitlePad: 12
});
buildPanel('chartB', {
  series: [[feK_ExcCo, feK_ExcCoFit], [feK_FeCo, feK_FeCoFit], [feK_CoExc, feK_CoExcFit]],
  offsets: feKOffsets, step: K_STEP, dot: 2.7,
  xMax: 12.45, xMajor: 2, xMinor: 0.5, yMin: -0.6, yMax: 4.42,
  xTitle: 'k(Å⁻¹)', yTitle: 'k²χ(k)',
  pad: { top: 14, right: 21, bottom: 0, left: 0 }, yW: 79, xH: 66, yTitlePad: 28
});
buildPanel('chartC', {
  series: [[coR_ExcCo, coR_ExcCoFit], [coR_FeCo, coR_FeCoFit], [coR_CoExc, coR_CoExcFit]],
  offsets: coROffsets, step: R_STEP, dot: 2.9,
  xMax: 6, xMajor: 1, xMinor: 0.2, yMin: 0, yMax: 5,
  xTitle: 'R(Å)', yTitle: '|χ(R)| (Å⁻³)',
  pad: { top: 24, right: 24, bottom: 0, left: 0 }, yW: 58, xH: 57, yTitlePad: 12
});
buildPanel('chartD', {
  series: [[coK_ExcCo, coK_ExcCoFit], [coK_FeCo, coK_FeCoFit], [coK_CoExc, coK_CoExcFit]],
  offsets: coKOffsets, step: K_STEP, dot: 2.7,
  xMax: 17, xMajor: 2, xMinor: 0.5, yMin: -0.6, yMax: 4.41,
  xTitle: 'k(Å⁻¹)', yTitle: 'k²χ(k)',
  pad: { top: 24, right: 23, bottom: 0, left: 0 }, yW: 81, xH: 56, yTitlePad: 28
});
</script>
</body>
</html>
